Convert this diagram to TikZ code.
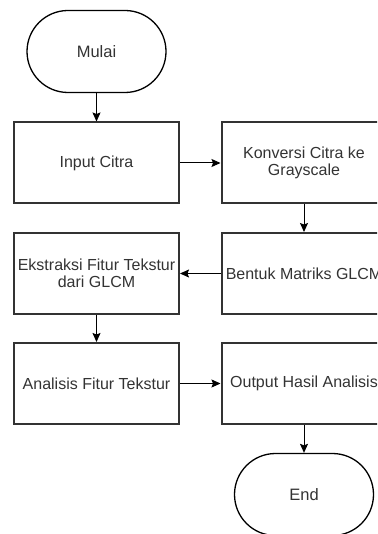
\documentclass[tikz,border=0pt]{standalone}
\usepackage{fontspec}
\setmainfont{Liberation Sans}
\usetikzlibrary{arrows.meta}

\begin{document}
\begin{tikzpicture}[x=1pt,y=-1pt,
  proses/.style={draw=black!80, line width=2pt, minimum width=165pt, minimum height=81pt,
    inner sep=0pt, align=center, text=black!80, font=\fontsize{16}{17}\selectfont},
  terminal/.style={draw=black, line width=1.3pt, rounded corners=41pt, minimum width=139pt,
    minimum height=82pt, inner sep=0pt, text=black!80, font=\fontsize{16.5}{17}\selectfont},
  panah/.style={-{Stealth[length=9pt,width=8pt,inset=1.5pt]}, line width=1pt}]

% Frame of the picture
\useasboundingbox (0,0) rectangle (377,534);
\clip (0,0) rectangle (377,534);

% Start and end
\node[terminal] (mulai) at (96.5,51.5) {Mulai};
\node[terminal] (akhir) at (304,494.5) {End};

% Process boxes
\node[proses] (input) at (96.5,163) {Input Citra};
\node[proses] (konversi) at (304,163) {Konversi Citra ke\\Grayscale};
\node[proses] (ekstraksi) at (96.5,273.5) {Ekstraksi Fitur Tekstur\\dari GLCM};
\node[proses] (bentuk) at (304,273.5) {Bentuk Matriks GLCM};
\node[proses] (analisis) at (96.5,383.5) {Analisis Fitur Tekstur};
\node[proses] (output) at (304,383.5) {Output Hasil Analisis};

% Flow arrows
\draw[panah] (mulai) -- (input);
\draw[panah] (input) -- (konversi);
\draw[panah] (konversi) -- (bentuk);
\draw[panah] (bentuk) -- (ekstraksi);
\draw[panah] (ekstraksi) -- (analisis);
\draw[panah] (analisis) -- (output);
\draw[panah] (output) -- (akhir);

\end{tikzpicture}
\end{document}
